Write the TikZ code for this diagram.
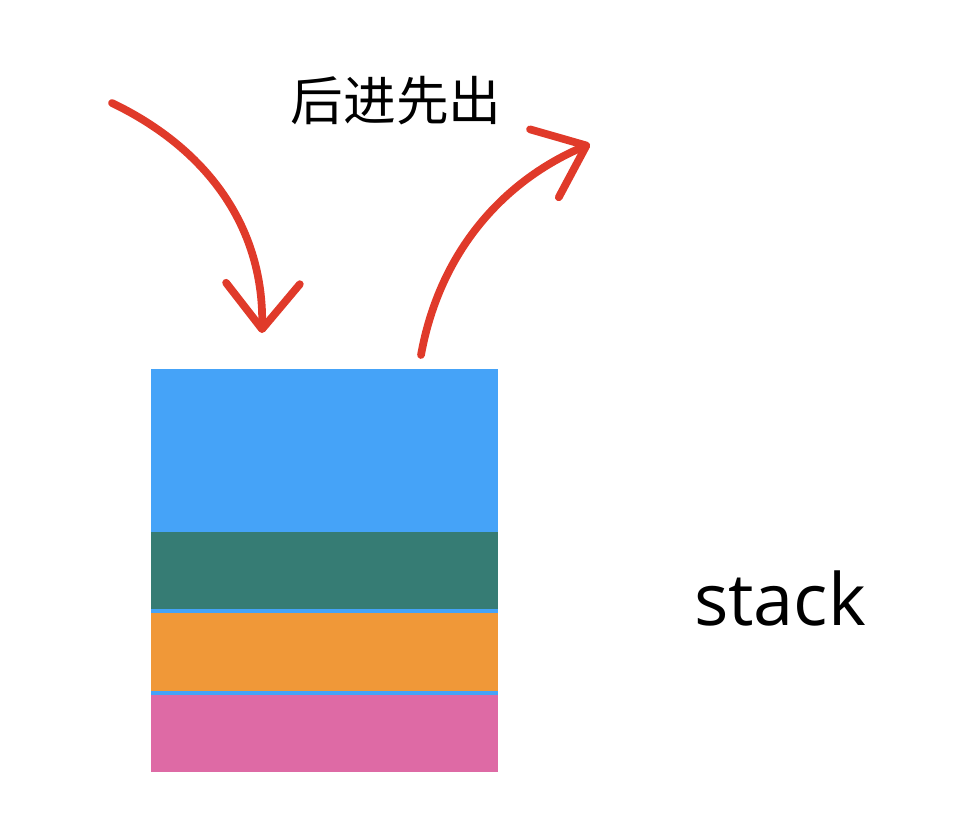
\documentclass[tikz,border=0pt]{standalone}
\usepackage{fontspec}
\setmainfont{Open Sans}
\newfontfamily\cjk{Noto Sans CJK SC}
\usetikzlibrary{arrows.meta}
\definecolor{topblue}{HTML}{45A3F8}
\definecolor{tealgreen}{HTML}{367C74}
\definecolor{orangey}{HTML}{F09838}
\definecolor{pinky}{HTML}{DE6AA5}
\definecolor{crayon}{HTML}{E03A2A}
\tikzset{
  layer/.style={fill=#1, draw=none, inner sep=0pt, minimum width=347*0.02cm},
  crayonarrow/.style={draw=crayon, line width=4.4pt, line cap=round, line join=round,
    -{Straight Barb[length=26pt, width=42pt, line width=4.4pt, round]}}
}
\begin{document}
\begin{tikzpicture}[x=0.02cm, y=-0.02cm]
  \useasboundingbox (0,0) rectangle (968,836);

  % the stack, top to bottom
  \fill[topblue] (151,369) rectangle (498,772);
  \node[layer=topblue, minimum height=163*0.02cm, anchor=north west] (top) at (151,369) {};
  \node[layer=tealgreen, minimum height=77*0.02cm, anchor=north west] (second) at (151,532) {};
  \node[layer=orangey, minimum height=78*0.02cm, anchor=north west] (third) at (151,613) {};
  \node[layer=pinky, minimum height=77*0.02cm, anchor=north west] (bottom) at (151,695) {};

  % labels
  \node[font=\cjk\fontsize{30}{31}\selectfont] (order) at (396,101) {后进先出};
  \node[font=\fontsize{41}{43}\selectfont, anchor=base] (name) at (780,625) {stack};

  % push arrow
  \coordinate (pushstart) at (112,103);
  \coordinate (pushend) at (262,333);
  \draw[crayonarrow] (pushstart) .. controls (210,150) and (264,230) .. (pushend);

  % pop arrow
  \coordinate (popstart) at (421,355);
  \coordinate (popend) at (590,144);
  \draw[crayonarrow] (popstart) .. controls (440,250) and (505,180) .. (popend);
\end{tikzpicture}
\end{document}
